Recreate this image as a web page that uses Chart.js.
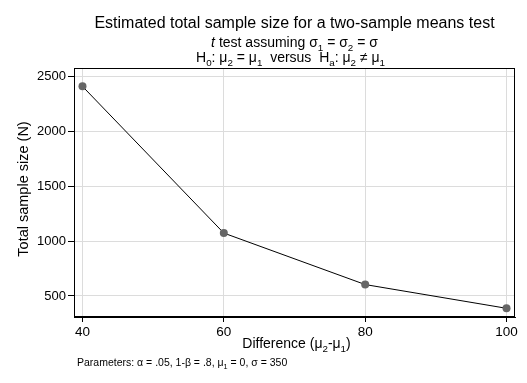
<!DOCTYPE html>
<html>
<head>
<meta charset="utf-8">
<script src="https://cdn.jsdelivr.net/npm/chart.js@4"></script>
<style>
html,body{margin:0;padding:0;background:#fff;}
#wrap{width:527px;height:383px;position:relative;}
</style>
</head>
<body>
<div id="wrap"><canvas id="c" width="527" height="383"></canvas></div>
<script>
// Data
const differences = [40, 60, 80, 100];
const totalSampleSize = [2406, 1072, 604, 388];
const xTickValues = [40, 60, 80, 100];
const yTickValues = [500, 1000, 1500, 2000, 2500];

const FAMILY = '"Liberation Sans", Arial, Helvetica, sans-serif';

function drawRich(ctx, segs, x, baseline, size, align) {
  const fontFor = s => (s.i ? 'italic ' : '') + (s.sub ? (size * 0.7).toFixed(1) : size) + 'px ' + FAMILY;
  let total = 0;
  segs.forEach(s => { ctx.font = fontFor(s); total += ctx.measureText(s.t).width; });
  let cx = align === 'left' ? x : x - total / 2;
  ctx.textAlign = 'left';
  ctx.textBaseline = 'alphabetic';
  segs.forEach(s => {
    ctx.font = fontFor(s);
    ctx.fillText(s.t, cx, baseline + (s.sub ? size * 0.28 : 0));
    cx += ctx.measureText(s.t).width;
  });
}

const textPlugin = {
  id: 'texts',
  afterDraw(chart) {
    const ctx = chart.ctx;
    const a = chart.chartArea;
    const mid = (a.left + a.right) / 2;
    ctx.save();
    // frame
    ctx.strokeStyle = '#000';
    ctx.lineWidth = 1;
    ctx.strokeRect(Math.round(a.left) + 0.5, Math.round(a.top) + 0.5, Math.round(a.right - a.left) - 1, Math.round(a.bottom - a.top) - 1);
    ctx.fillStyle = '#000';
    drawRich(ctx, [{t: 'Estimated total sample size for a two-sample means test'}], mid, 28, 16);
    drawRich(ctx, [{t: 't', i: 1}, {t: ' test assuming σ'}, {t: '1', sub: 1}, {t: ' = σ'}, {t: '2', sub: 1}, {t: ' = σ'}], mid, 47, 14);
    drawRich(ctx, [{t: 'H'}, {t: '0', sub: 1}, {t: ': μ'}, {t: '2', sub: 1}, {t: ' = μ'}, {t: '1', sub: 1},
                   {t: '  versus  H'}, {t: 'a', sub: 1}, {t: ': μ'}, {t: '2', sub: 1}, {t: ' ≠ μ'}, {t: '1', sub: 1}], mid - 4, 62, 14);
    drawRich(ctx, [{t: 'Difference (μ'}, {t: '2', sub: 1}, {t: '-μ'}, {t: '1', sub: 1}, {t: ')'}], mid + 2, 348, 14);
    drawRich(ctx, [{t: 'Parameters: α = .05, 1-β = .8, μ'}, {t: '1', sub: 1}, {t: ' = 0, σ = 350'}], 77, 366, 10.5, 'left');
    // y title
    ctx.translate(28, 189);
    ctx.rotate(-Math.PI / 2);
    drawRich(ctx, [{t: 'Total sample size (N)'}], 0, 0, 14.5);
    ctx.restore();
  }
};

new Chart(document.getElementById('c'), {
  type: 'line',
  data: {
    datasets: [{
      data: differences.map((d, i) => ({x: d, y: totalSampleSize[i]})),
      borderColor: '#000',
      borderWidth: 1,
      pointRadius: 4,
      pointBackgroundColor: '#666',
      pointBorderColor: '#666',
      pointBorderWidth: 0,
      tension: 0,
      fill: false
    }]
  },
  options: {
    responsive: false,
    animation: false,
    devicePixelRatio: 1,
    layout: {padding: {left: 0, top: 68, right: 12, bottom: 0}},
    plugins: {legend: {display: false}, tooltip: {enabled: false}, title: {display: false}},
    scales: {
      x: {
        type: 'linear',
        min: 38.8,
        max: 101.2,
        afterBuildTicks: s => { s.ticks = xTickValues.map(v => ({value: v})); },
        afterFit: s => { s.height = 66; },
        grid: {color: '#dcdcdc', tickColor: '#000', tickLength: 5, lineWidth: 1},
        border: {display: true, color: '#000', width: 1},
        ticks: {color: '#000', font: {family: FAMILY, size: 13.5}, padding: 2, maxRotation: 0, autoSkip: false,
                callback: v => String(v)}
      },
      y: {
        type: 'linear',
        min: 309,
        max: 2573,
        afterBuildTicks: s => { s.ticks = yTickValues.map(v => ({value: v})); },
        afterFit: s => { s.width = 74; },
        grid: {color: '#dcdcdc', tickColor: '#000', tickLength: 6, lineWidth: 1},
        border: {display: true, color: '#000', width: 1},
        ticks: {color: '#000', font: {family: FAMILY, size: 13}, padding: 2, autoSkip: false,
                callback: v => String(v)}
      }
    }
  },
  plugins: [textPlugin]
});
</script>
</body>
</html>
